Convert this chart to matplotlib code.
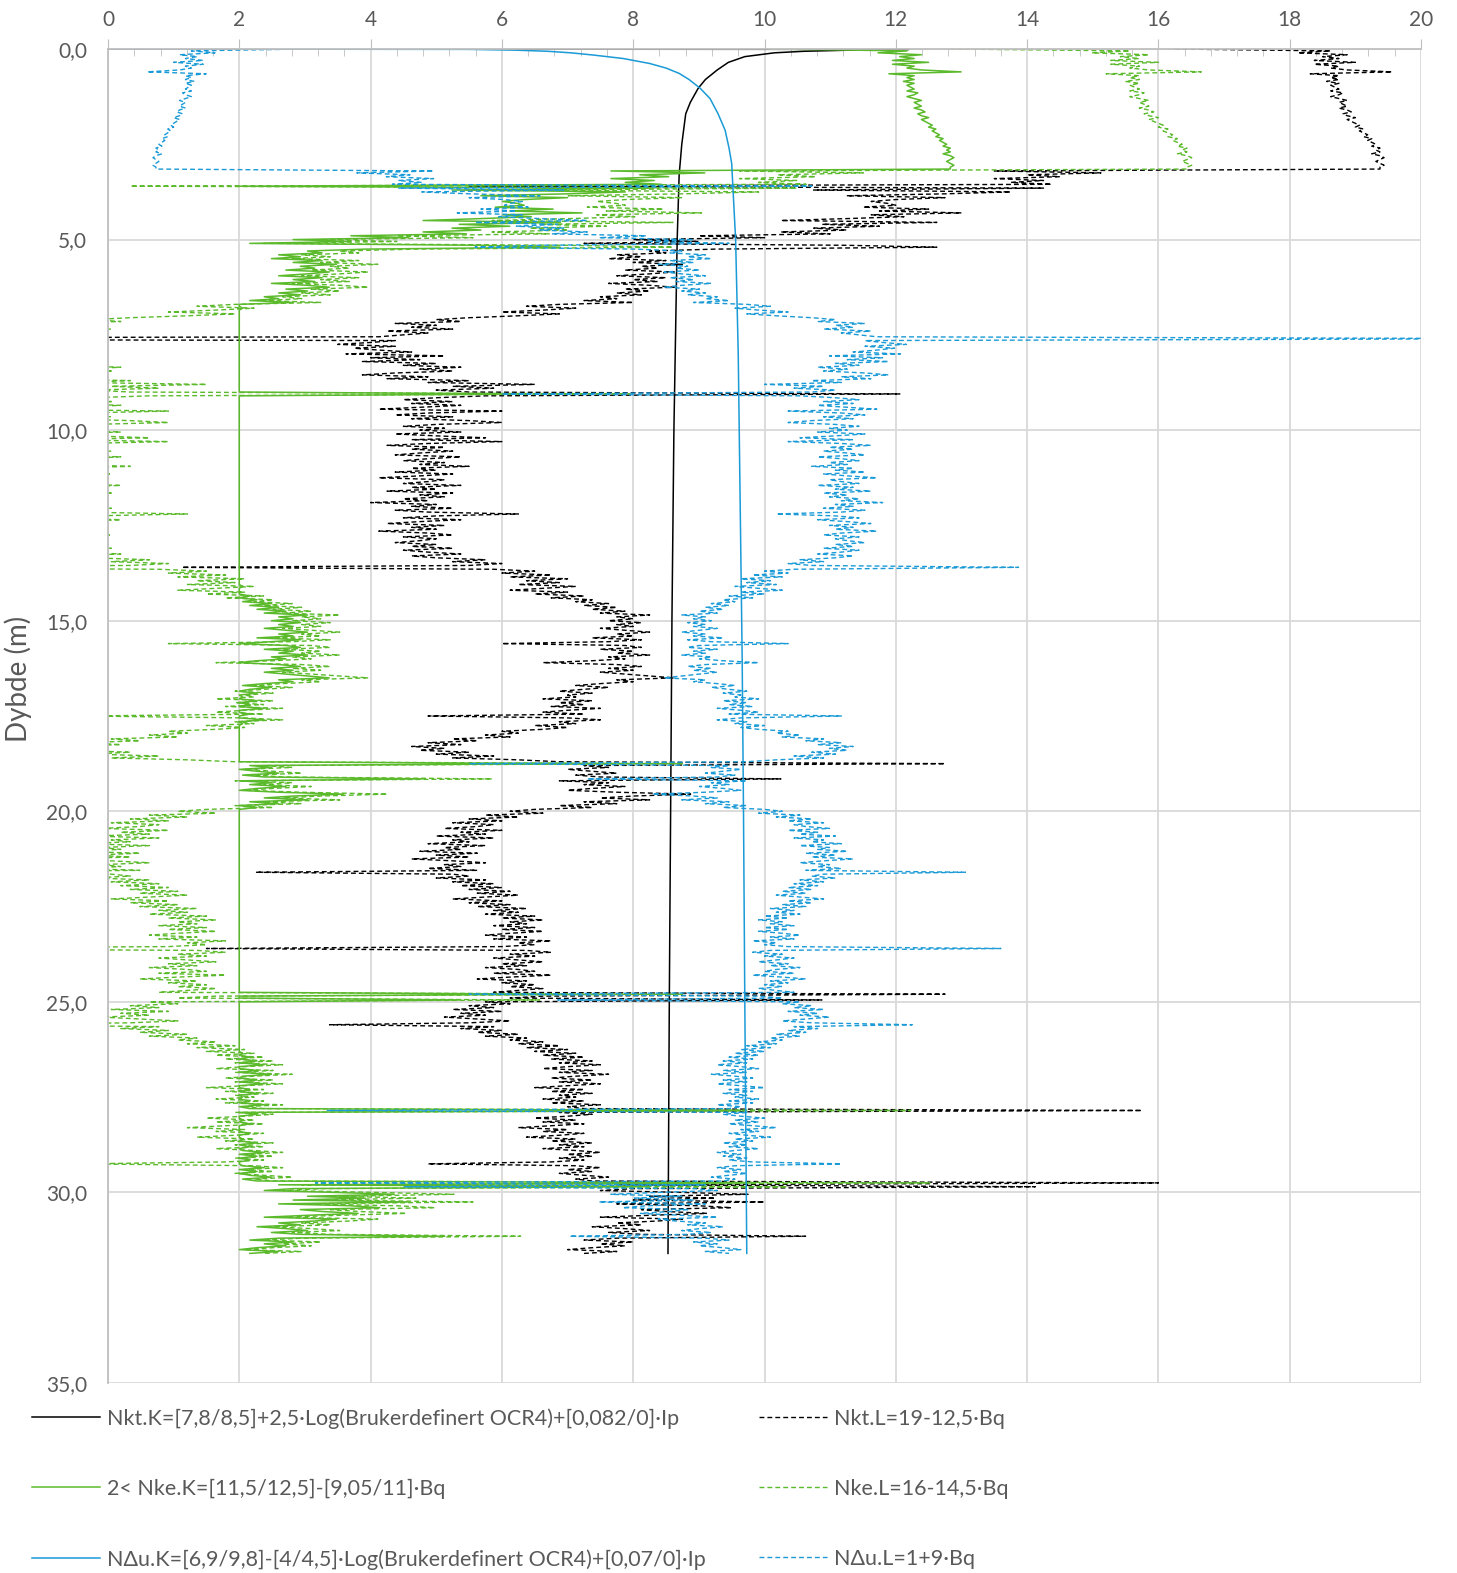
import matplotlib.pyplot as plt
import numpy as np
from matplotlib.ticker import MultipleLocator

plt.rcParams['font.family'] = ['Lato', 'DejaVu Sans']

# Bq every 0.05 m (one row = 1 m)
step = 0.05
bq = [
    0.22, 0.03, 0.07, 0.01, 0.04, 0.02, 0.05, 0.00, 0.05, 0.02, 0.03, 0.01, -0.045, 0.055, 0.02, 0.03, 0.02, 0.035, 0.02, 0.03,
    0.025, 0.02, 0.03, 0.015, 0.02, 0.03, 0.02, 0.01, 0.02, 0.015, 0.01, 0.02, 0.01, 0.005, 0.015, 0.01, 0.0, 0.01, 0.005, 0.0,
    -0.005, 0.0, -0.01, -0.005, -0.01, -0.015, -0.01, -0.02, -0.015, -0.02, -0.025, -0.02, -0.03, -0.025, -0.03, -0.02, -0.03, -0.035, -0.03, -0.025,
    -0.03, -0.035, -0.03, -0.03, 0.44, 0.31, 0.40, 0.36, 0.44, 0.38, 0.42, 0.37, 1.08, 0.38, 0.66, 0.42, 0.50, 0.62, 0.50, 0.56,
    0.59, 0.57, 0.56, 0.60, 0.52, 0.58, 0.48, 0.59, 0.55, 0.62, 0.70, 0.51, 0.65, 0.58, 0.66, 0.62, 0.70, 0.64, 0.80, 0.72,
    0.88, 0.80, 0.94, 0.62, 0.51, 0.78, 0.86, 0.84, 0.90, 0.87, 0.91, 0.84, 0.88, 0.82, 0.87, 0.85, 0.89, 0.83, 0.86, 0.90,
    0.84, 0.88, 0.85, 0.91, 0.86, 0.83, 0.89, 0.86, 0.90, 0.87, 0.92, 0.90, 0.94, 0.88, 0.97, 1.01, 0.95, 0.99, 1.04, 0.97,
    1.02, 1.08, 1.12, 1.09, 1.17, 1.12, 1.15, 1.10, 1.18, 1.13, 1.16, 1.19, 2.30, 1.17, 1.20, 1.24, 1.17, 1.22, 1.19, 1.15,
    1.23, 1.11, 1.20, 1.14, 1.21, 1.12, 1.16, 1.09, 1.14, 1.10, 1.17, 1.21, 1.13, 1.18, 1.08, 1.13, 1.00, 1.10, 1.05, 1.12,
    1.08, 0.555, 1.06, 1.12, 1.16, 1.10, 1.15, 1.09, 1.14, 1.19, 1.04, 1.13, 1.17, 1.10, 1.15, 1.08, 1.04, 1.12, 1.16, 1.11,
    1.14, 1.09, 1.17, 1.12, 1.06, 1.15, 1.04, 1.13, 1.18, 1.11, 1.15, 1.10, 1.14, 1.17, 1.09, 1.13, 1.16, 1.11, 1.14, 1.08,
    1.15, 1.12, 1.17, 1.10, 1.14, 1.19, 1.11, 1.13, 1.16, 1.09, 1.15, 1.12, 1.18, 1.10, 1.14, 1.11, 1.16, 1.13, 1.20, 1.12,
    1.15, 1.10, 1.17, 1.13, 1.02, 1.12, 1.16, 1.09, 1.14, 1.18, 1.11, 1.15, 1.12, 1.19, 1.13, 1.10, 1.16, 1.12, 1.14, 1.17,
    1.12, 1.15, 1.10, 1.16, 1.13, 1.09, 1.15, 1.12, 1.06, 1.10, 1.04, 1.08, 1.43, 1.05, 1.00, 1.04, 0.98, 1.03, 0.96, 1.01,
    0.97, 1.02, 0.95, 0.99, 1.03, 0.96, 1.00, 0.94, 0.98, 0.93, 0.95, 0.91, 0.94, 0.90, 0.93, 0.89, 0.92, 0.86, 0.90, 0.88,
    0.91, 0.87, 0.90, 0.88, 0.92, 0.89, 0.86, 0.90, 0.88, 0.93, 0.87, 0.91, 1.04, 0.89, 0.87, 0.92, 0.88, 0.90, 0.86, 0.91,
    0.89, 0.93, 0.99, 0.90, 0.87, 0.91, 0.88, 0.92, 0.89, 0.86, 0.83, 0.90, 0.88, 0.92, 0.95, 0.91, 0.94, 0.97, 0.93, 0.96,
    0.95, 0.99, 0.93, 0.97, 0.94, 0.98, 0.92, 0.96, 0.99, 0.94, 1.13, 0.96, 0.92, 0.97, 0.95, 1.00, 0.96, 0.99, 1.04, 1.02,
    1.06, 1.03, 1.10, 1.07, 1.13, 1.09, 1.15, 1.11, 1.14, 1.08, 1.12, 1.05, 1.10, 1.02, 0.97, 0.50, 0.94, 0.91, 0.96, 0.93,
    0.90, 0.95, 0.92, 0.70, 0.97, 0.91, 0.94, 0.89, 0.93, 0.96, 0.90, 0.81, 0.88, 0.92, 0.86, 0.94, 0.90, 0.97, 0.93, 1.00,
    1.03, 0.99, 1.06, 1.02, 1.08, 1.04, 1.10, 1.05, 1.07, 1.11, 1.04, 1.09, 1.06, 1.12, 1.05, 1.10, 1.08, 1.13, 1.06, 1.11,
    1.09, 1.14, 1.07, 1.12, 1.08, 1.15, 1.10, 1.06, 1.11, 1.09, 1.13, 1.07, 1.34, 1.10, 1.08, 1.12, 1.06, 1.10, 1.05, 1.09,
    1.04, 1.08, 1.03, 1.07, 1.02, 1.06, 1.10, 1.04, 1.08, 1.03, 1.07, 1.01, 1.05, 1.02, 1.06, 1.00, 1.04, 0.99, 1.03, 1.01,
    1.05, 1.00, 1.04, 0.99, 1.03, 1.06, 1.01, 1.05, 0.98, 1.02, 1.00, 1.04, 1.40, 1.01, 0.98, 1.03, 1.00, 1.05, 1.02, 0.99,
    1.04, 1.01, 1.06, 1.02, 1.00, 1.05, 0.98, 1.03, 1.07, 1.01, 1.04, 1.00, 1.03, 0.99, 1.02, 1.05, 0.50, 0.99, 1.03, 0.65,
    1.06, 1.03, 1.08, 1.05, 1.10, 1.04, 1.09, 1.06, 1.11, 1.07, 1.03, 1.08, 1.25, 1.05, 1.09, 1.04, 1.07, 1.02, 1.06, 1.01,
    1.03, 0.99, 1.02, 0.97, 1.01, 0.96, 1.00, 0.95, 0.99, 0.94, 0.98, 0.93, 0.97, 0.92, 0.96, 0.99, 0.93, 0.97, 0.91, 0.95,
    0.98, 0.93, 0.97, 0.92, 0.96, 1.00, 0.94, 0.98, 0.93, 0.97, 0.95, 0.99, 0.94, 0.98, 0.92, 0.96, 0.94, 0.26, 0.97, 0.93,
    0.96, 1.00, 0.95, 0.99, 0.94, 0.98, 1.02, 0.96, 0.99, 0.94, 0.97, 1.01, 0.95, 0.98, 0.93, 0.97, 0.94, 0.99, 0.95, 0.92,
    0.96, 0.93, 0.97, 0.94, 0.98, 1.13, 0.95, 0.92, 0.96, 0.93, 0.97, 0.94, 0.91, 0.95, 0.93, 0.24, 0.90, 0.39, 0.88, 0.92,
    0.82, 0.74, 0.86, 0.78, 0.88, 0.72, 0.90, 0.80, 0.76, 0.87, 0.84, 0.79, 0.86, 0.92, 0.82, 0.85, 0.90, 0.87, 0.93, 0.89,
    0.86, 0.91, 0.87, 0.67, 0.90, 0.94, 0.88, 0.92, 0.89, 0.93, 0.96, 0.90, 0.94,
]

# smooth Nkt.K curve (depth, value)
nktk_depth = [0, 0.01, 0.03, 0.06, 0.1, 0.2, 0.35, 0.55, 0.8, 1.03, 1.4, 1.7, 2.5, 3.3, 5, 10, 15, 20, 25, 31.6]
nktk_val = [0, 12.2, 11.3, 10.6, 10.15, 9.7, 9.45, 9.28, 9.1, 8.99, 8.87, 8.8, 8.74, 8.7, 8.67, 8.62, 8.59, 8.57, 8.55, 8.53]

# smooth NΔu.K curve (depth, value)
nduk_depth = [0, 0.01, 0.03, 0.06, 0.1, 0.16, 0.25, 0.38, 0.5, 0.64, 0.8, 1.03, 1.3, 1.69, 2.13, 2.6, 3.0, 4, 5, 8, 12, 16, 20, 25, 31.6]
nduk_val = [0, 5.5, 6.2, 6.7, 7.05, 7.4, 7.85, 8.25, 8.5, 8.7, 8.85, 9.02, 9.17, 9.29, 9.4, 9.46, 9.5, 9.53, 9.56, 9.6, 9.63, 9.66, 9.68, 9.7, 9.73]

bq = np.array(bq)
depth = np.arange(len(bq)) * step

# series as given in the legend
nkt_l = 19 - 12.5 * bq
nke_l = 16 - 14.5 * bq
ndu_l = 1 + 9 * bq
nke_k = np.maximum(2, 12.5 - 11 * bq)

black = '#000000'
green = '#5BBA2B'
blue = '#1A9AD6'
grey_txt = '#595959'
dash = (0, (3.5, 2.2))

fig = plt.figure(figsize=(14.57, 15.73), dpi=100)
ax = fig.add_axes([108 / 1457, 1 - 1383 / 1573, 1313 / 1457, 1334 / 1573])

l1, = ax.plot(nktk_val, nktk_depth, color=black, lw=1.1)
l4, = ax.plot(nkt_l, depth, color=black, lw=1.0, ls=dash)
l2, = ax.plot(nke_k, depth, color=green, lw=1.1)
l5, = ax.plot(nke_l, depth, color=green, lw=1.0, ls=dash)
l3, = ax.plot(nduk_val, nduk_depth, color=blue, lw=1.1)
l6, = ax.plot(ndu_l, depth, color=blue, lw=1.0, ls=dash)

ax.set_xlim(0, 20)
ax.set_ylim(35, 0)

ax.xaxis.tick_top()
ax.set_xticks(range(0, 21, 2))
ax.xaxis.set_minor_locator(MultipleLocator(0.4))
ax.set_yticks(range(0, 36, 5))
ax.set_yticklabels([f"{v:.1f}".replace('.', ',') for v in range(0, 36, 5)])

ax.tick_params(axis='x', which='major', direction='out', length=7, color='#bfbfbf',
               labelsize=15, labelcolor=grey_txt, pad=7)
ax.tick_params(axis='x', which='minor', direction='in', length=5, color='#bfbfbf')
ax.tick_params(axis='y', which='major', length=0, labelsize=15, labelcolor=grey_txt, pad=15)

ax.grid(True, which='major', color='#d9d9d9', lw=1.3)
ax.set_axisbelow(True)
for s in ['bottom', 'right']:
    ax.spines[s].set_visible(False)
for s in ['top', 'left']:
    ax.spines[s].set_color('#bfbfbf')
    ax.spines[s].set_linewidth(1.3)

ax.set_ylabel('Dybde (m)', fontsize=20, color=grey_txt)
ax.yaxis.set_label_coords(-0.058, 0.528)

labels = [
    'Nkt.K=[7,8/8,5]+2,5·Log(Brukerdefinert OCR4)+[0,082/0]·Ip',
    '2< Nke.K=[11,5/12,5]-[9,05/11]·Bq',
    'NΔu.K=[6,9/9,8]-[4/4,5]·Log(Brukerdefinert OCR4)+[0,07/0]·Ip',
    'Nkt.L=19-12,5·Bq',
    'Nke.L=16-14,5·Bq',
    'NΔu.L=1+9·Bq',
]
leg = fig.legend([l1, l2, l3, l4, l5, l6], labels, ncol=2, loc='upper left',
                 bbox_to_anchor=(32 / 1457, 1 - 1408 / 1573), frameon=False,
                 fontsize=15.5, handlelength=3.15, handletextpad=0.33,
                 columnspacing=2.5, labelspacing=2.33, borderaxespad=0, borderpad=0)
for t in leg.get_texts():
    t.set_color(grey_txt)

fig.savefig('out.png', dpi=100)
